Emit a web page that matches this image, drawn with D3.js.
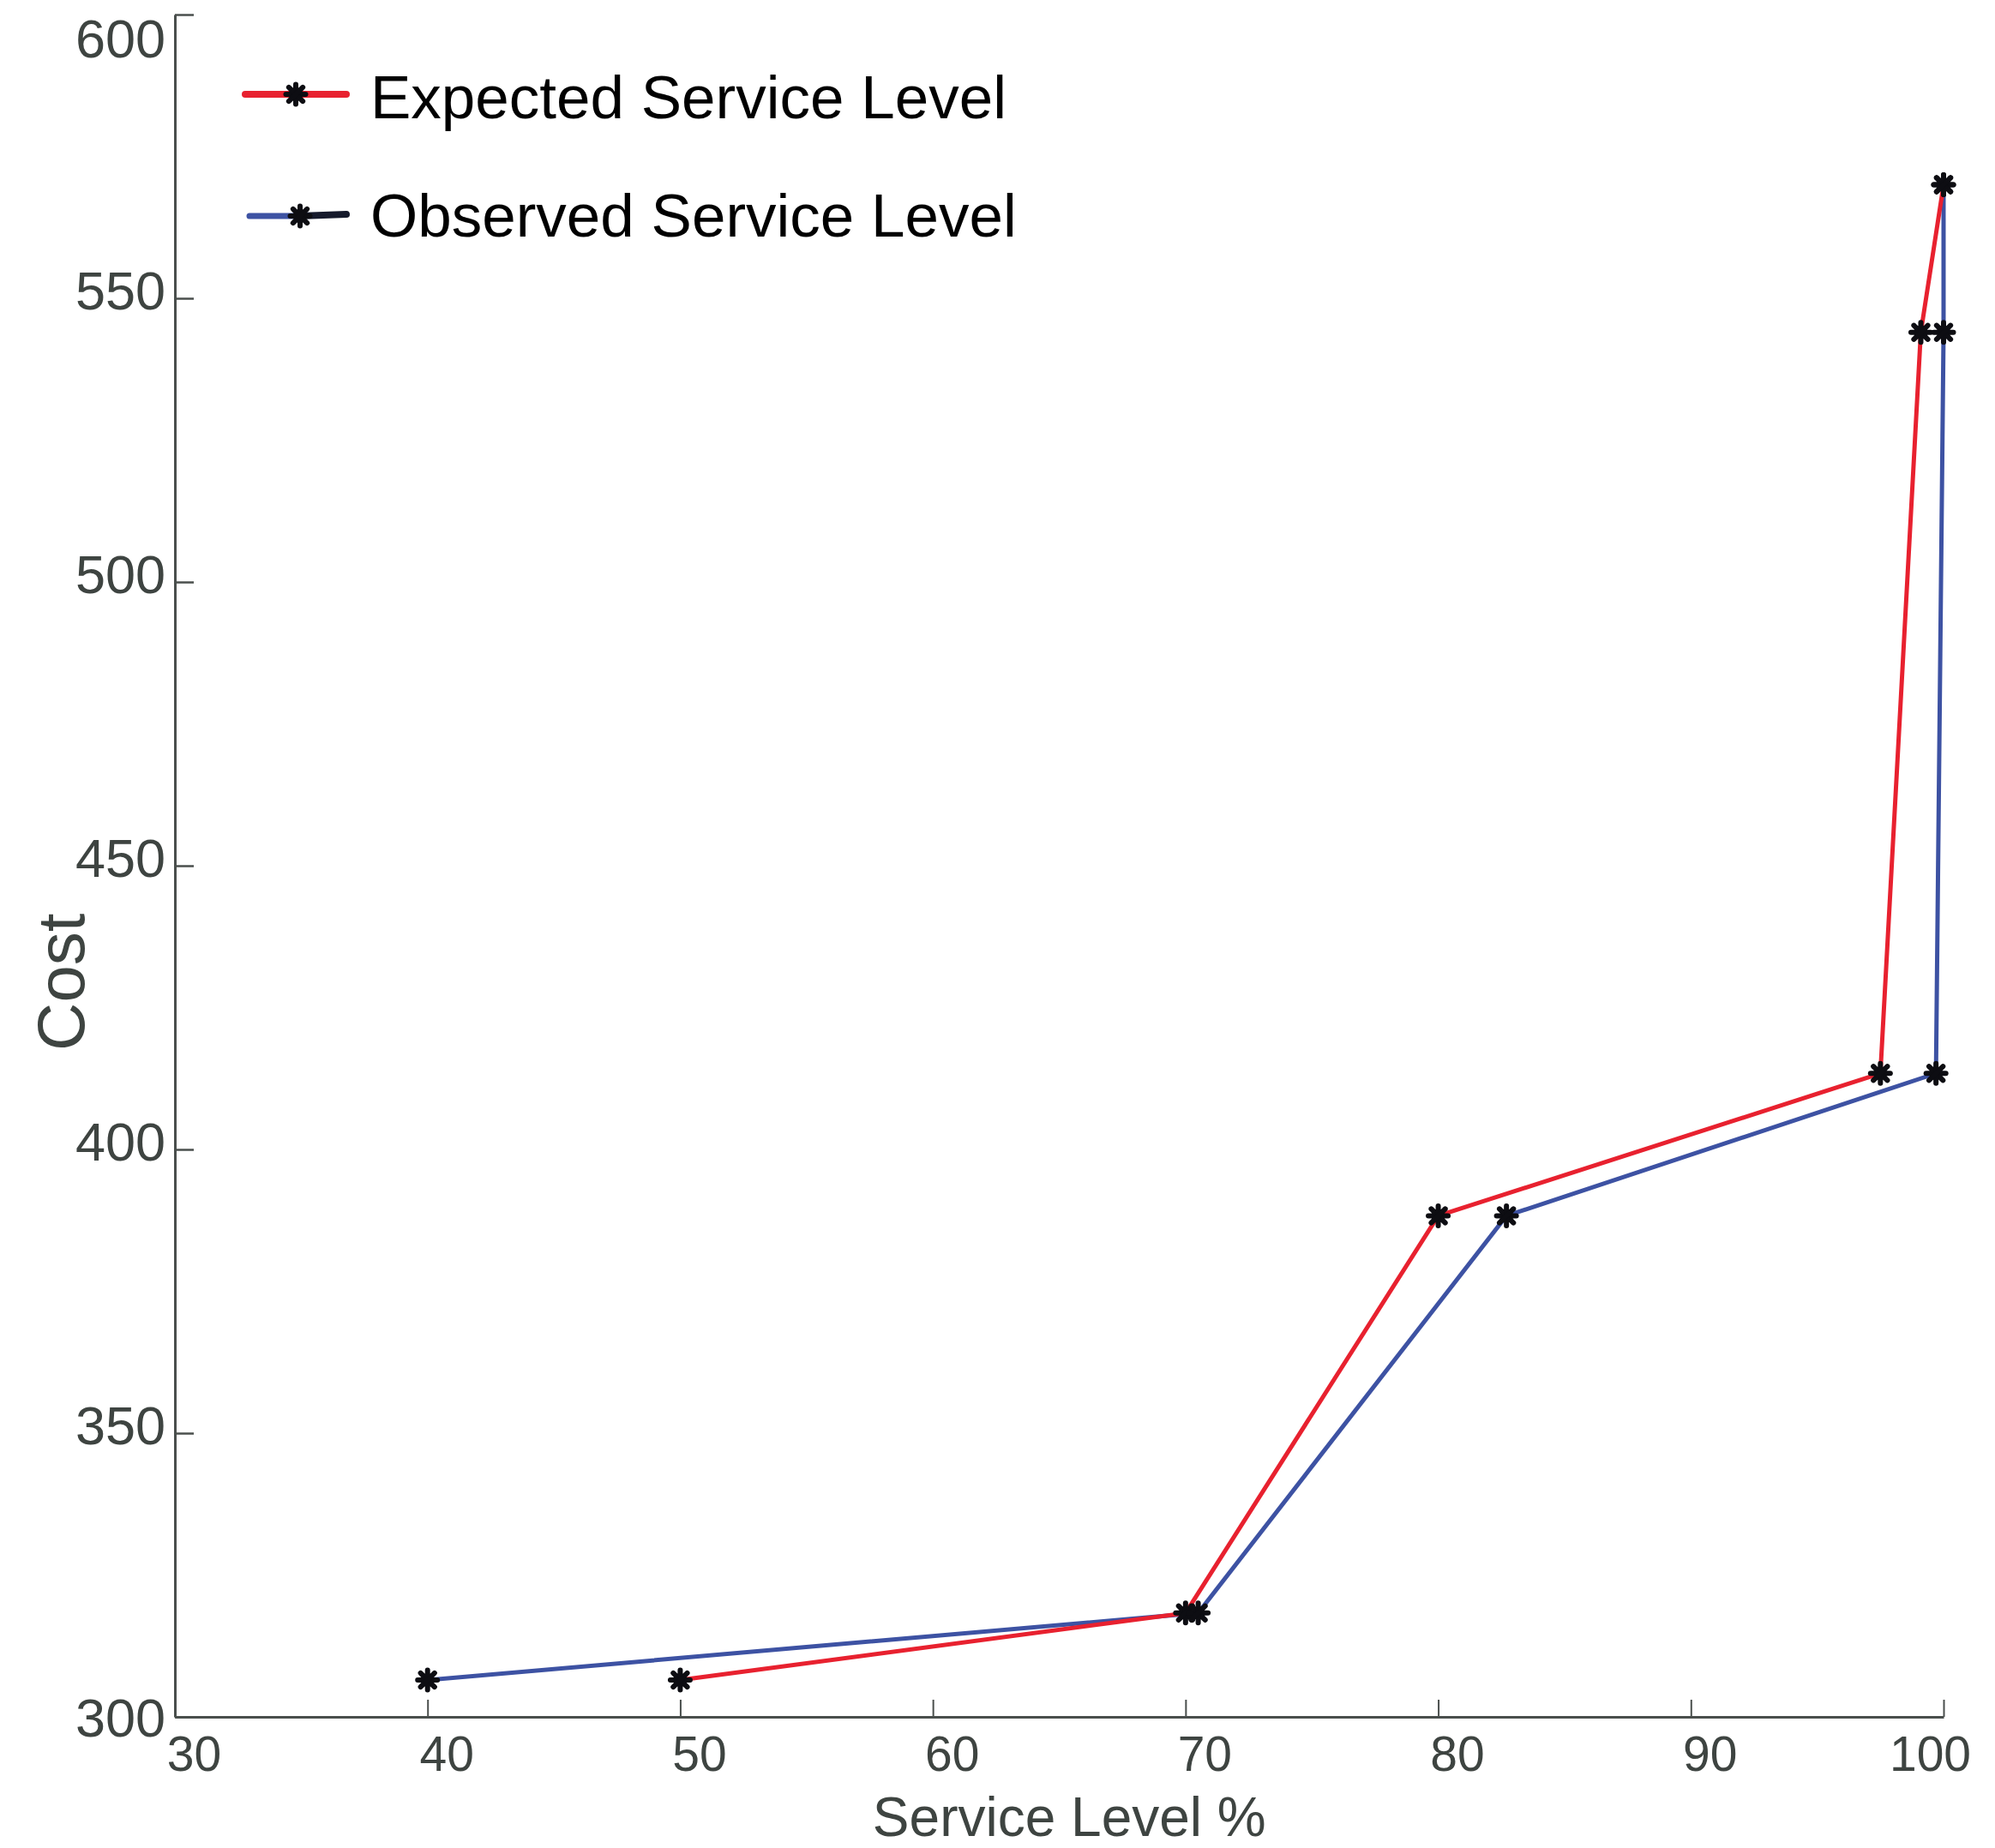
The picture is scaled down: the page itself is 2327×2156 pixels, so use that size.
<!DOCTYPE html>
<meta charset="utf-8">
<head>
  <script src="https://d3js.org/d3.v7.min.js"></script>
  <style>
    body { margin: 0; background: #fff; }
    text { font-family: "Liberation Sans", Arial, sans-serif; }
  </style>
</head>
<body>
<div id="chart"></div>
<script>

// data
var seriesNames = ["Expected Service Level", "Observed Service Level"];
var expectedLevel = [50, 70, 80, 97.5, 99.1, 100];
var observedLevel = [40, 70.5, 82.7, 99.7, 100, 100];
var costValues = [306.5, 318.3, 388.3, 413.4, 544, 570];
var xTicks = [30, 40, 50, 60, 70, 80, 90, 100];
var yTicks = [300, 350, 400, 450, 500, 550, 600];

var W = 2327, H = 2156;
var margin = {top: 17, right: 60, bottom: 153, left: 204},
    width = 2267 - margin.left,
    height = 2003 - margin.top;

var svg = d3.select("#chart")
  .append("svg")
    .attr("width", W)
    .attr("height", H)
  .append("g")
    .attr("transform", "translate(" + margin.left + "," + margin.top + ")");

var x = d3.scaleLinear().domain([30, 100]).range([0, width]);
var y = d3.scaleLinear().domain([300, 600]).range([height, 0]);

var axisColor = "#4a4f4d", labelColor = "#3e4441";

// x axis, ticks pointing up
var gx = svg.append("g")
  .attr("transform", "translate(0," + height + ")")
  .call(d3.axisBottom(x).tickValues(xTicks).tickSizeInner(-20).tickSizeOuter(0).tickPadding(23));
gx.select(".domain").attr("stroke", axisColor).attr("stroke-width", 3);
gx.selectAll(".tick line").attr("stroke", axisColor).attr("stroke-width", 2);
gx.selectAll(".tick text")
  .attr("fill", labelColor)
  .attr("font-size", 57)
  .attr("dx", function(d) { return d === 100 ? -16 : 22; });

// y axis, ticks pointing right
var gy = svg.append("g")
  .call(d3.axisLeft(y).tickValues(yTicks).tickSizeInner(-22).tickSizeOuter(0).tickPadding(11));
gy.select(".domain").attr("stroke", axisColor).attr("stroke-width", 3);
gy.selectAll(".tick line").attr("stroke", axisColor).attr("stroke-width", 2.5);
gy.selectAll(".tick text")
  .attr("fill", labelColor)
  .attr("font-size", 63)
  .attr("dy", function(d) { return d === 600 ? "0.78em" : (d === 300 ? "0.35em" : "0.2em"); });

// axis titles
svg.append("text")
  .attr("x", x(65.4))
  .attr("y", height + 139)
  .attr("text-anchor", "middle")
  .attr("font-size", 64)
  .attr("fill", labelColor)
  .text("Service Level %");

svg.append("text")
  .attr("transform", "translate(" + (-106) + "," + y(429.5) + ") rotate(-90)")
  .attr("text-anchor", "middle")
  .attr("font-size", 78)
  .attr("fill", labelColor)
  .text("Cost");

// asterisk marker
function drawStar(g, cx, cy) {
  var m = g.append("g").attr("transform", "translate(" + cx + "," + cy + ")");
  m.append("circle").attr("r", 8).attr("fill", "#0d0d12");
  [0, 45, 90, 135].forEach(function(a) {
    m.append("line")
      .attr("x1", -11.5).attr("x2", 11.5)
      .attr("transform", "rotate(" + a + ")")
      .attr("stroke", "#0d0d12")
      .attr("stroke-width", 6)
      .attr("stroke-linecap", "round");
  });
}

var line = d3.line()
  .x(function(d) { return x(d[0]); })
  .y(function(d) { return y(d[1]); });

var expected = expectedLevel.map(function(v, i) { return [v, costValues[i]]; });
var observed = observedLevel.map(function(v, i) { return [v, costValues[i]]; });

svg.append("path")
  .datum(observed)
  .attr("fill", "none")
  .attr("stroke", "#3d52a3")
  .attr("stroke-width", 5)
  .attr("d", line);

svg.append("path")
  .datum(expected)
  .attr("fill", "none")
  .attr("stroke", "#e8212f")
  .attr("stroke-width", 5)
  .attr("d", line);

expected.forEach(function(d) { drawStar(svg, x(d[0]), y(d[1])); });
observed.forEach(function(d) { drawStar(svg, x(d[0]), y(d[1])); });

// legend (page coordinates)
var legend = d3.select("svg").append("g");
legend.append("line")
  .attr("x1", 286).attr("x2", 404).attr("y1", 110).attr("y2", 110)
  .attr("stroke", "#e8212f").attr("stroke-width", 8).attr("stroke-linecap", "round");
drawStar(legend, 345, 110);
legend.append("line")
  .attr("x1", 291).attr("x2", 350).attr("y1", 252).attr("y2", 252)
  .attr("stroke", "#3d52a3").attr("stroke-width", 7).attr("stroke-linecap", "round");
legend.append("line")
  .attr("x1", 350).attr("x2", 404).attr("y1", 252).attr("y2", 250)
  .attr("stroke", "#161a2c").attr("stroke-width", 8).attr("stroke-linecap", "round");
drawStar(legend, 350, 252);

legend.selectAll("text.lab")
  .data(seriesNames)
  .enter().append("text")
    .attr("class", "lab")
    .attr("x", 432)
    .attr("y", function(d, i) { return 138 + i * 138; })
    .attr("font-size", 71)
    .attr("fill", "#000")
    .text(function(d) { return d; });

</script>
</body>
